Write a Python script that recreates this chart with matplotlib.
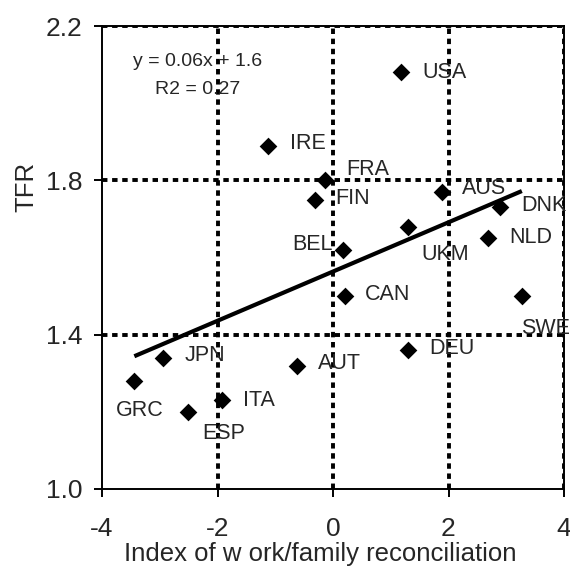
import numpy as np
import matplotlib
matplotlib.use("Agg")
import matplotlib.pyplot as plt

plt.rcParams["font.family"] = ["Liberation Sans", "DejaVu Sans"]
plt.rcParams["axes.unicode_minus"] = False

# Work/family reconciliation index vs. total fertility rate
countries = ["USA", "IRE", "FRA", "FIN", "AUS", "DNK", "UKM", "NLD", "BEL",
             "CAN", "SWE", "DEU", "AUT", "JPN", "GRC", "ITA", "ESP"]
work_family_index = [1.18, -1.13, -0.13, -0.32, 1.89, 2.89, 1.30, 2.68, 0.18,
                     0.20, 3.27, 1.30, -0.63, -2.94, -3.44, -1.93, -2.51]
tfr = [2.08, 1.89, 1.80, 1.75, 1.77, 1.73, 1.68, 1.65, 1.62,
       1.50, 1.50, 1.36, 1.32, 1.34, 1.28, 1.23, 1.20]

x_ticks = [-4, -2, 0, 2, 4]
y_ticks = [1.0, 1.4, 1.8, 2.2]
y_tick_labels = ["1.0", "1.4", "1.8", "2.2"]

# label placement: (dx, dy) in pixels and horizontal alignment
label_offsets = {
    "USA": (21, 0, "left"), "IRE": (22, 2, "left"), "FRA": (21, 11, "left"),
    "FIN": (21, 1, "left"), "AUS": (20, 3, "left"), "DNK": (21, 2, "left"),
    "UKM": (13, -28, "left"), "NLD": (21, 1, "left"), "BEL": (-11, 5, "right"),
    "CAN": (20, 2, "left"), "SWE": (-1, -32, "left"), "DEU": (21, 2, "left"),
    "AUT": (21, 2, "left"), "JPN": (21, 2, "left"), "GRC": (-18, -30, "left"),
    "ITA": (21, 0, "left"), "ESP": (14, -22, "left"),
}

txt = "#262626"
fig = plt.figure(figsize=(5.7, 5.7), dpi=100)
ax = fig.add_axes([102 / 570, 1 - 489 / 570, 462 / 570, 463 / 570])

ax.set_xlim(-4, 4)
ax.set_ylim(1.0, 2.2)
ax.set_xticks(x_ticks)
ax.set_yticks(y_ticks)
ax.set_yticklabels(y_tick_labels)

ax.grid(True, color="black", linewidth=2.8, linestyle=(0, (1.4, 1.2)))
ax.set_axisbelow(True)
# no dotted line along the left and bottom axes
ax.xaxis.get_gridlines()[0].set_visible(False)
ax.yaxis.get_gridlines()[0].set_visible(False)
for s in ax.spines.values():
    s.set_linewidth(1.4)
    s.set_zorder(3)

ax.tick_params(axis="both", direction="out", length=5.8, width=1.4,
               labelsize=19, labelcolor=txt, color="black")
ax.tick_params(axis="x", pad=14)
ax.tick_params(axis="y", pad=8)

x = np.array(work_family_index)
y = np.array(tfr)
ax.scatter(x, y, marker="D", s=9 ** 2, color="black", zorder=4, linewidths=0)

# linear trend across the observed range
slope, intercept = np.polyfit(x, y, 1)
xs = np.array([x.min(), x.max()])
ax.plot(xs, slope * xs + intercept, color="black", linewidth=3.0, zorder=4,
        solid_capstyle="butt")

for name, xv, yv in zip(countries, work_family_index, tfr):
    dx, dy, ha = label_offsets[name]
    ax.annotate(name, (xv, yv), xytext=(dx, dy), textcoords="offset pixels",
                ha=ha, va="center", fontsize=15.5, color=txt,
                annotation_clip=False, zorder=5)

ax.text(198 / 570, 1 - 62 / 570, "y = 0.06x + 1.6", transform=fig.transFigure,
        ha="center", va="center", fontsize=14, color=txt, zorder=5)
ax.text(198 / 570, 1 - 90 / 570, "R2 = 0.27", transform=fig.transFigure,
        ha="center", va="center", fontsize=14, color=txt, zorder=5)

fig.text(320 / 570, 1 - 554 / 570, "Index of w ork/family reconciliation",
         ha="center", va="center", fontsize=18.5, color=txt)
fig.text(26 / 570, 1 - 187 / 570, "TFR", rotation=90,
         ha="center", va="center", fontsize=18.5, color=txt)

fig.savefig("out.png", dpi=100)
